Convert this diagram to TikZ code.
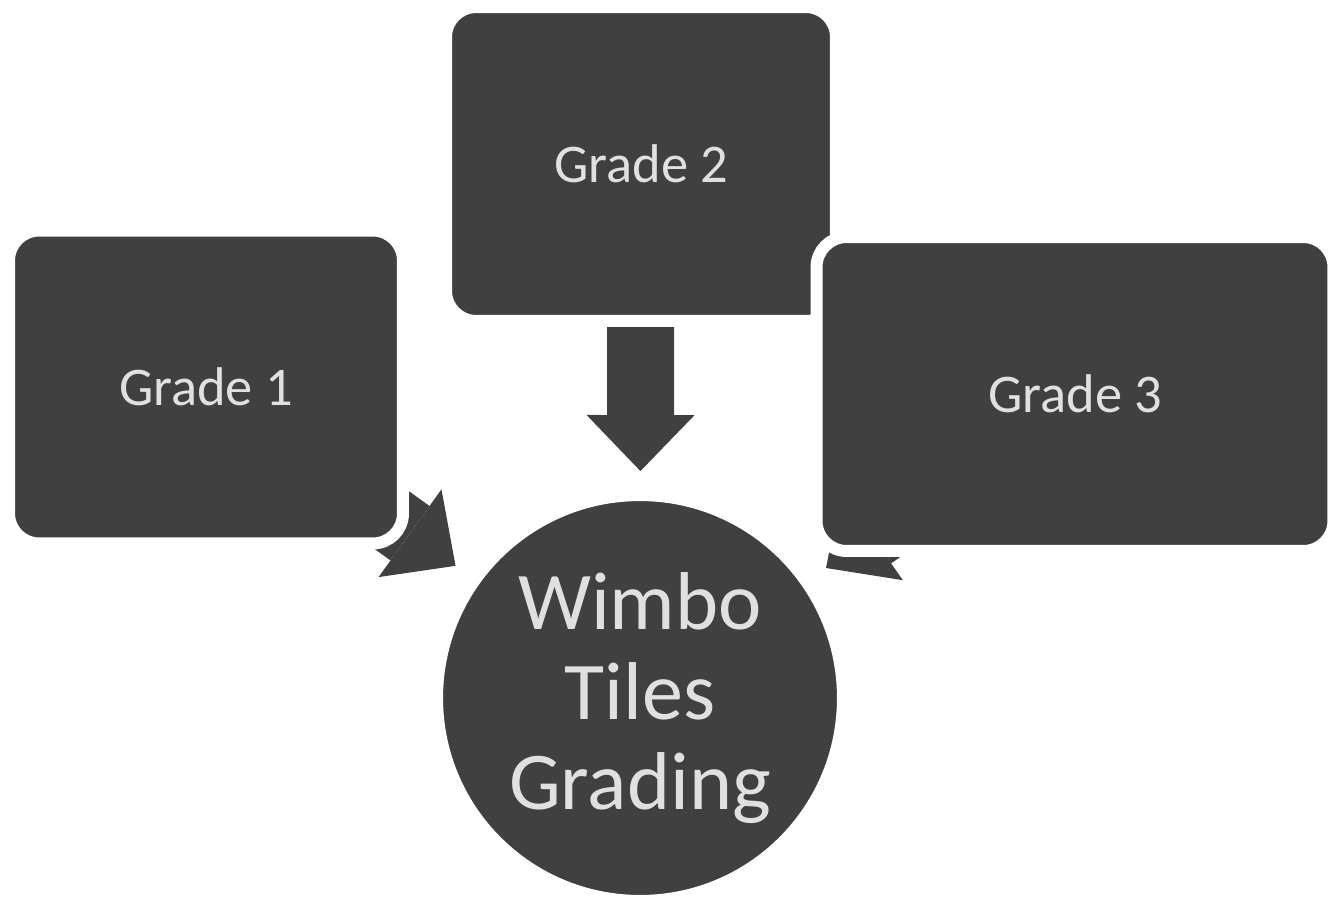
\documentclass[tikz,border=0pt]{standalone}
\usepackage{fontspec}
\setmainfont{Carlito}
\usetikzlibrary{arrows.meta,backgrounds}

\begin{document}
\begin{tikzpicture}[x=0.02cm,y=-0.02cm,
    gradebox/.style={rectangle,rounded corners=0.6cm,fill=black!75,draw=white,
      line width=0.24cm,text=white!88!black,font=\fontsize{31}{36}\selectfont,inner sep=0pt},
    hubdisc/.style={circle,fill=black!75,draw=white,line width=0.24cm,minimum size=8.12cm,
      text=white!88!black,align=center,font=\fontsize{46.7}{51.2}\selectfont,inner sep=0pt},
    fatarrow/.style={draw=black!75,line width=1.34cm,shorten >=0.36cm,
      -{Triangle[length=1.12cm,width=2.16cm,line width=0pt]}}]
                \useasboundingbox (0,0) rectangle (1338,913);
                \node[gradebox,minimum width=7.88cm,minimum height=6.26cm] (g1) at (206,387) {Grade 1};
                \node[gradebox,minimum width=7.8cm,minimum height=6.28cm] (g2) at (641,164) {Grade 2};
                \node[gradebox,minimum width=10.34cm,minimum height=6.28cm] (g3) at (1075,394) {Grade 3};
                \node[hubdisc] (hub) at (640,698) {Wimbo\\Tiles\\Grading};
                \begin{scope}[on background layer]
                \draw[fatarrow] (g1.center) -- (hub);
                \draw[fatarrow] (g2.center) -- (hub);
                \draw[fatarrow] (g3.center) -- (hub);
                \end{scope}
            \end{tikzpicture}
\end{document}
